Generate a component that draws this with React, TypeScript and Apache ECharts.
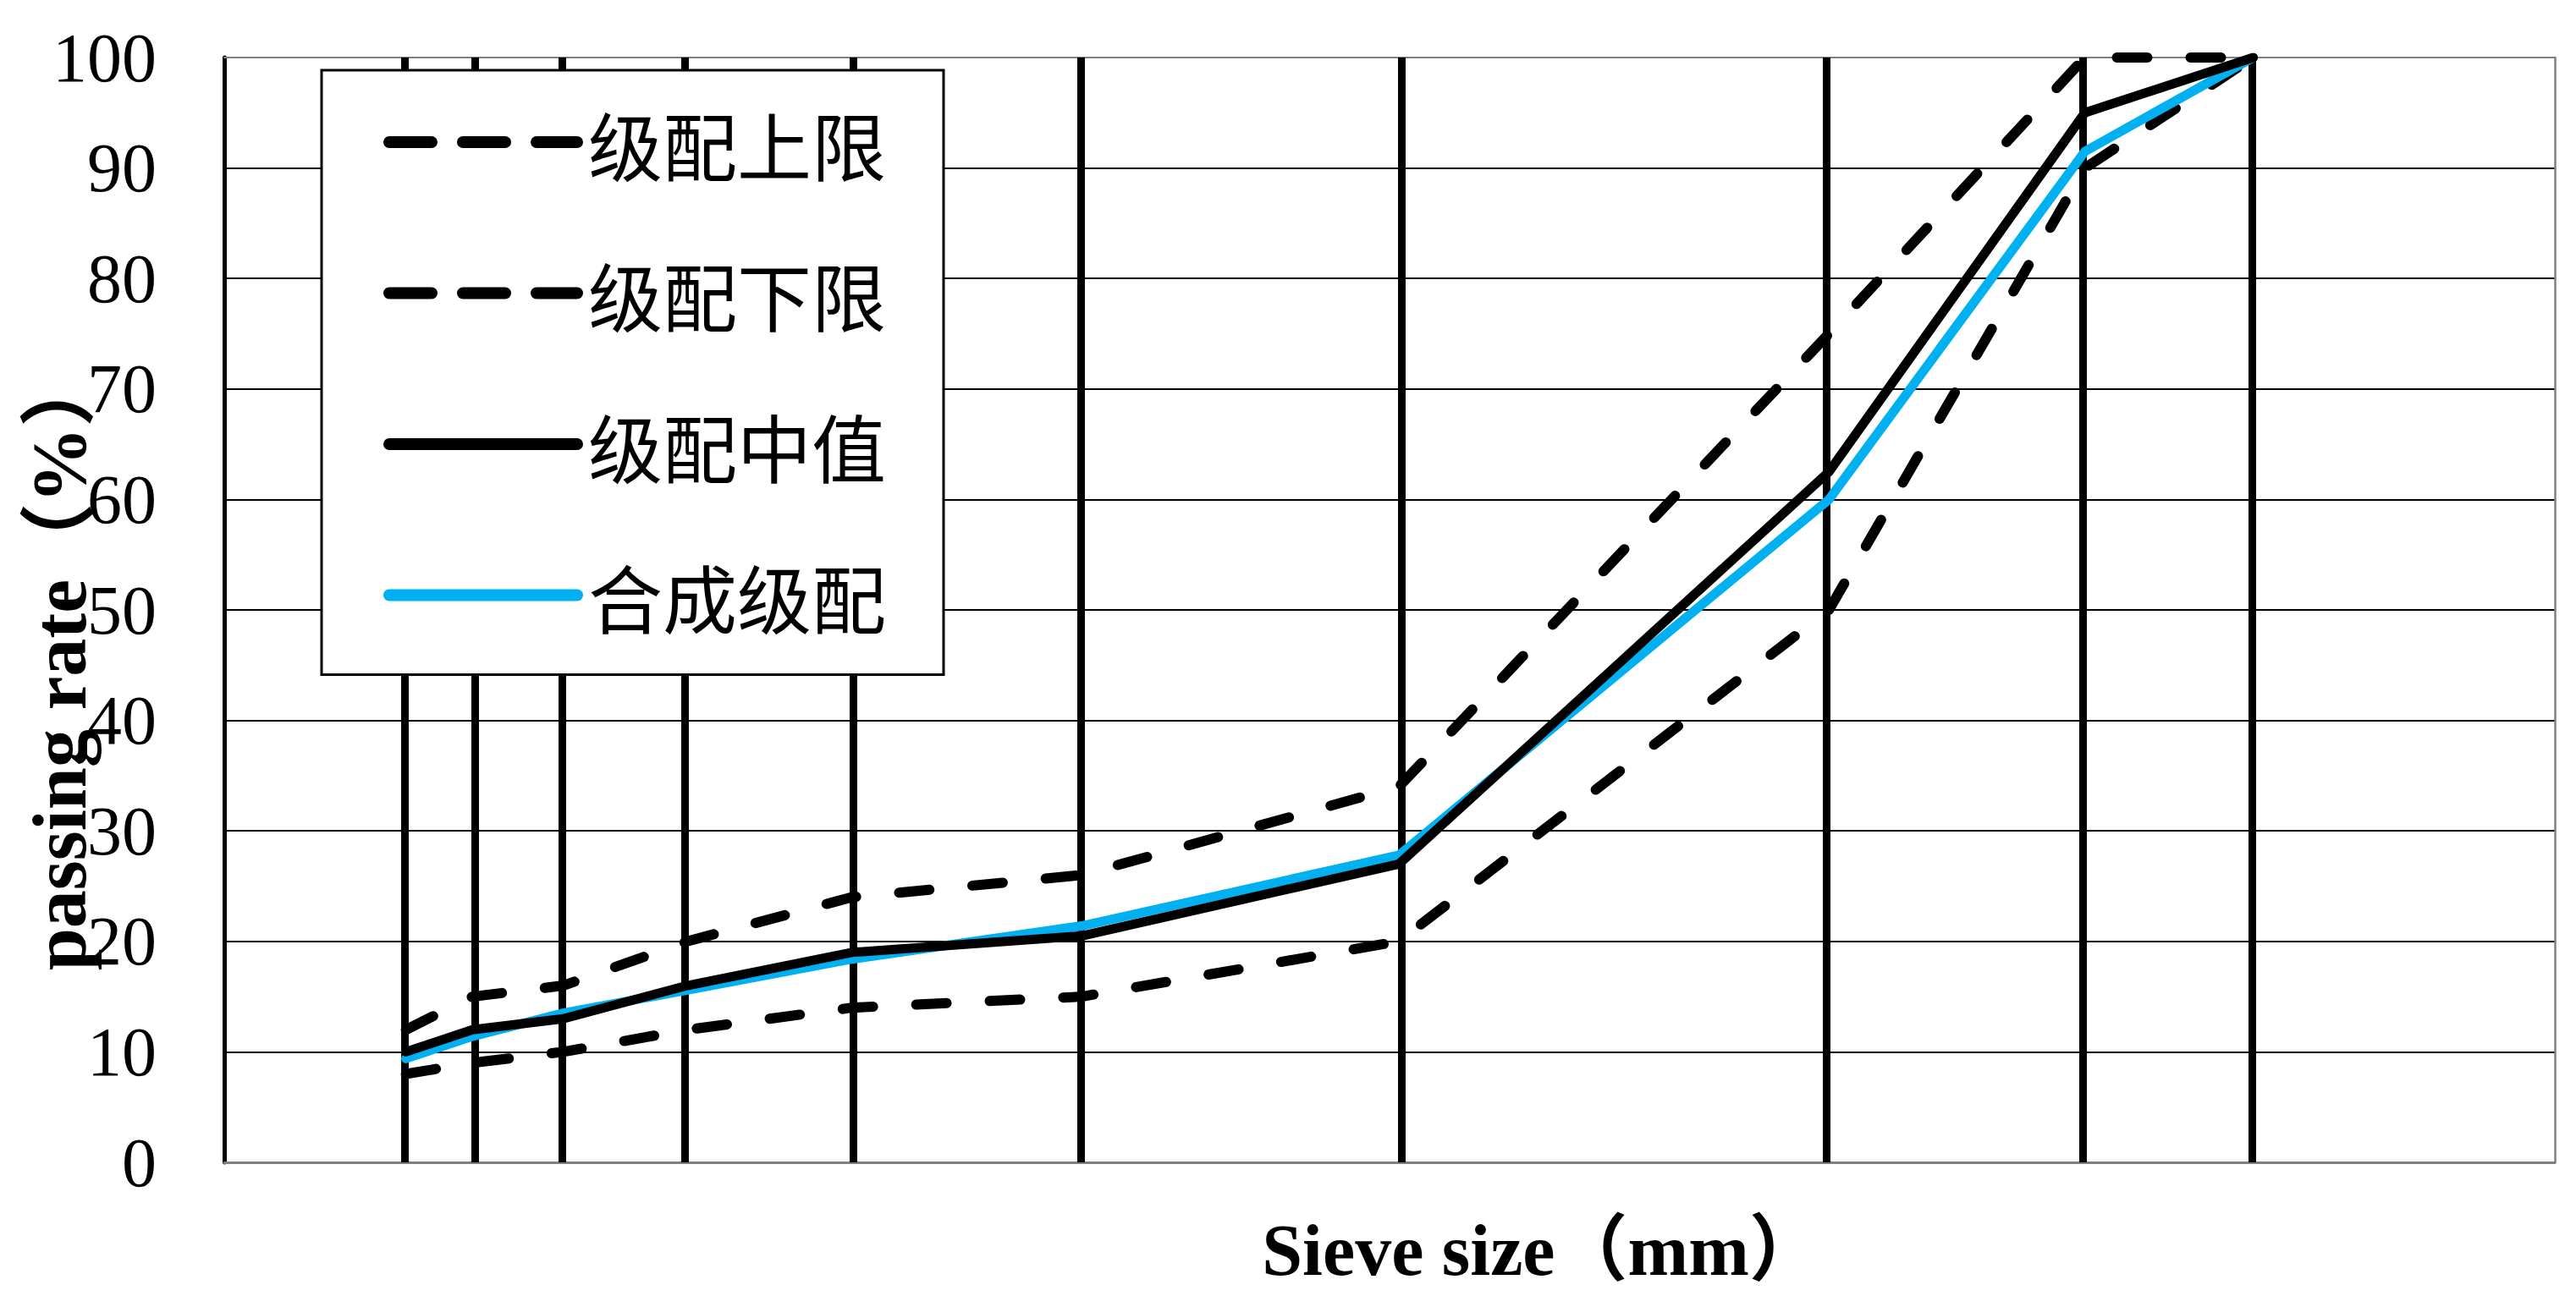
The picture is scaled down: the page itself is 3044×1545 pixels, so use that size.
import React, { useEffect, useRef } from "react";
import * as echarts from "echarts";

// Sieve sizes (mm) and passing rates (%)
const SIEVES = [0.075, 0.15, 0.3, 0.6, 1.18, 2.36, 4.75, 9.5, 13.2, 16];
const UPPER = [12, 15, 16, 20, 24, 26, 34, 75, 100, 100];
const LOWER = [8, 9, 10, 12, 14, 15, 20, 50, 90, 100];
const MEDIAN = [10, 12, 13, 16, 19, 20.5, 27, 62.5, 95, 100];
const SYNTH = [9.4, 11.4, 13.5, 15.6, 18.4, 21.4, 27.8, 60, 91.5, 100];

const SERIES_NAMES = ["级配上限", "级配下限", "级配中值", "合成级配"];
const X_NAME = "Sieve size（mm）";
const Y_NAME = "passing rate（%）";
const Y_MIN = 0;
const Y_MAX = 100;
const Y_STEP = 10;
// Gradation chart: horizontal scale is sieve size raised to 0.45
const POWER = 0.45;
const X_MIN = 0;
const X_MAX = 4;

const LATIN = "'Liberation Serif', 'Noto Sans CJK SC', serif";
const CJK = "'Noto Sans CJK SC', sans-serif";

const tx = (s: number) => Math.pow(s, POWER);
const toXY = (vals: number[]) => SIEVES.map((s, i) => [tx(s), vals[i]]);

export default function App() {
  const ref = useRef<HTMLDivElement>(null);
  useEffect(() => {
    if (!ref.current) return;
    const chart = echarts.init(ref.current, null, { renderer: "svg" });
    const dash = [36, 51];
    const legendDash = [50, 37];
    chart.setOption({
      animation: false,
      backgroundColor: "#ffffff",
      grid: {
        left: 265,
        top: 68,
        right: 25,
        bottom: 171,
        containLabel: false,
        outerBoundsMode: "none",
      },
      graphic: [
        {
          type: "text",
          x: 70,
          y: 781,
          rotation: Math.PI / 2,
          z: 20,
          style: {
            text: Y_NAME,
            fontSize: 90,
            fontWeight: "bold",
            fontFamily: LATIN,
            fill: "#000",
            align: "center",
            verticalAlign: "middle",
          },
        },
      ],
      xAxis: [
        {
          type: "value",
          min: X_MIN,
          max: X_MAX,
          position: "bottom",
          axisLine: { show: true, onZero: false, lineStyle: { color: "#808080", width: 3 } },
          axisTick: { show: false },
          axisLabel: { show: false },
          splitLine: { show: false },
          name: X_NAME,
          nameLocation: "middle",
          nameGap: 61,
          nameTextStyle: {
            fontSize: 86,
            fontWeight: "bold",
            fontFamily: LATIN,
            color: "#000",
            padding: [0, 0, 0, 360],
          },
        },
        {
          type: "value",
          min: X_MIN,
          max: X_MAX,
          position: "top",
          axisLine: { show: true, onZero: false, lineStyle: { color: "#808080", width: 2 } },
          axisTick: { show: false },
          axisLabel: { show: false },
          splitLine: { show: false },
        },
      ],
      yAxis: [
        {
          type: "value",
          min: Y_MIN,
          max: Y_MAX,
          interval: Y_STEP,
          position: "left",
          axisLine: { show: true, onZero: false, lineStyle: { color: "#000", width: 5 } },
          axisTick: { show: false },
          axisLabel: { fontSize: 82, fontFamily: LATIN, color: "#000", margin: 80 },
          splitLine: { show: true, showMaxLine: false, lineStyle: { color: "#000", width: 2 } },
        },
        {
          type: "value",
          min: Y_MIN,
          max: Y_MAX,
          position: "right",
          axisLine: { show: true, onZero: false, lineStyle: { color: "#808080", width: 2.5 } },
          axisTick: { show: false },
          axisLabel: { show: false },
          splitLine: { show: false },
        },
      ],
      legend: {
        show: true,
        orient: "vertical",
        left: 380,
        top: 83,
        itemWidth: 222,
        itemHeight: 14,
        itemGap: 88.5,
        padding: [40, 68, 49, 73],
        backgroundColor: "#ffffff",
        borderColor: "#000",
        borderWidth: 3,
        borderRadius: 0,
        selectedMode: false,
        z: 10,
        lineStyle: { width: 14 },
        textStyle: {
          fontSize: 88,
          fontFamily: CJK,
          color: "#000",
          lineHeight: 90,
          padding: [0, 0, 0, 8],
        },
        data: [
          { name: SERIES_NAMES[0], lineStyle: { width: 14, type: legendDash } },
          { name: SERIES_NAMES[1], lineStyle: { width: 14, type: legendDash } },
          { name: SERIES_NAMES[2], lineStyle: { width: 14, type: "solid" } },
          { name: SERIES_NAMES[3], lineStyle: { width: 14, type: "solid" } },
        ],
      },
      series: [
        {
          name: "sieves",
          type: "line",
          data: [],
          symbol: "none",
          z: 1,
          markLine: {
            silent: true,
            z: 1,
            symbol: ["none", "none"],
            label: { show: false },
            lineStyle: { color: "#000", width: 9, type: "solid" },
            emphasis: { disabled: true },
            data: SIEVES.map((s) => ({ xAxis: tx(s) })),
          },
        },
        {
          name: SERIES_NAMES[0],
          type: "line",
          data: toXY(UPPER),
          symbol: "none",
          z: 2,
          itemStyle: { color: "#000" },
          lineStyle: { color: "#000", width: 12, type: dash, cap: "round", join: "round" },
        },
        {
          name: SERIES_NAMES[1],
          type: "line",
          data: toXY(LOWER),
          symbol: "none",
          z: 2,
          itemStyle: { color: "#000" },
          lineStyle: { color: "#000", width: 12, type: dash, cap: "round", join: "round" },
        },
        {
          name: SERIES_NAMES[3],
          type: "line",
          data: toXY(SYNTH),
          symbol: "none",
          z: 3,
          itemStyle: { color: "#00B0F0" },
          lineStyle: { color: "#00B0F0", width: 11, type: "solid", cap: "round", join: "round" },
        },
        {
          name: SERIES_NAMES[2],
          type: "line",
          data: toXY(MEDIAN),
          symbol: "none",
          z: 4,
          itemStyle: { color: "#000" },
          lineStyle: { color: "#000", width: 11, type: "solid", cap: "round", join: "round" },
        },
      ],
    });
    return () => chart.dispose();
  }, []);
  return (
    <div
      ref={ref}
      style={{ position: "fixed", left: 0, top: 0, width: 3044, height: 1545 }}
    />
  );
}
